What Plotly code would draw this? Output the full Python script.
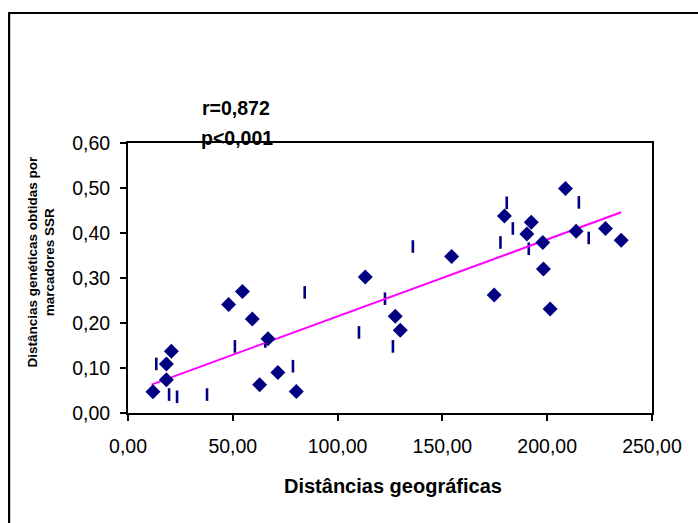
import plotly.graph_objects as go

# ---- data ----
geo_dist = [11.9, 18.3, 18.3, 20.7, 48.0, 54.6, 59.3, 66.8, 62.8, 71.5, 80.3,
            113.2, 127.5, 129.9, 154.4, 174.7, 179.6, 192.4, 190.3, 197.9,
            198.2, 201.4, 208.7, 213.8, 227.8, 235.3]
gen_dist = [0.047, 0.074, 0.109, 0.137, 0.241, 0.270, 0.209, 0.165, 0.063, 0.090, 0.048,
            0.302, 0.215, 0.184, 0.348, 0.262, 0.438, 0.424, 0.398, 0.379,
            0.320, 0.231, 0.499, 0.404, 0.410, 0.384]

dash_x = [13.5, 19.6, 23.4, 37.7, 51.0, 65.5, 78.7, 84.3, 110.2, 122.6, 126.4,
          135.9, 177.7, 180.7, 183.6, 191.2, 215.1, 219.8]
dash_y = [0.109, 0.041, 0.036, 0.041, 0.148, 0.159, 0.104, 0.268, 0.179, 0.254, 0.148,
          0.370, 0.379, 0.467, 0.410, 0.365, 0.468, 0.389]

trend_x = [11.2, 235.3]
trend_y = [0.063, 0.446]

x_tickvals = [0, 50, 100, 150, 200, 250]
x_ticktext = ["0,00", "50,00", "100,00", "150,00", "200,00", "250,00"]
y_tickvals = [0.0, 0.1, 0.2, 0.3, 0.4, 0.5, 0.6]
y_ticktext = ["0,00", "0,10", "0,20", "0,30", "0,40", "0,50", "0,60"]

W, H = 698, 523
ML, MR, MT, MB = 128, 45.5, 143, 110
PW, PH = W - ML - MR, H - MT - MB


def px(x):
    return (x - ML) / PW


def py(y):
    return (H - MB - y) / PH


FONT = "Liberation Sans, Arial, sans-serif"
NAVY = "#000080"

fig = go.Figure()
fig.add_trace(go.Scatter(x=dash_x, y=dash_y, mode="markers",
                         marker=dict(symbol="line-ns", size=9,
                                     line=dict(color=NAVY, width=2.6)),
                         hoverinfo="skip", showlegend=False))
fig.add_trace(go.Scatter(x=trend_x, y=trend_y, mode="lines",
                         line=dict(color="#FF00FF", width=2),
                         showlegend=False))
fig.add_trace(go.Scatter(x=geo_dist, y=gen_dist, mode="markers",
                         marker=dict(symbol="diamond", size=11.5, color=NAVY,
                                     line=dict(width=0)),
                         showlegend=False))

fig.update_xaxes(range=[0, 250], tickvals=x_tickvals, ticktext=x_ticktext,
                 showline=True, linecolor="black", linewidth=2, mirror=True,
                 ticks="outside", ticklen=6, tickwidth=2, tickcolor="black",
                 showgrid=False, zeroline=False, ticklabelstandoff=9,
                 tickfont=dict(family=FONT, size=19.5, color="black"))
fig.update_yaxes(range=[0, 0.6], tickvals=y_tickvals, ticktext=y_ticktext,
                 showline=True, linecolor="black", linewidth=2, mirror=True,
                 ticks="outside", ticklen=6, tickwidth=2, tickcolor="black",
                 showgrid=False, zeroline=False, ticklabelstandoff=6,
                 tickfont=dict(family=FONT, size=19.5, color="black"))

ann = [
    dict(text="<b>r=0,872</b>", x=px(200), y=py(108), xanchor="left", size=19.5),
    dict(text="<b>p<0,001</b>", x=px(199), y=py(137.5), xanchor="left", size=19.5),
    dict(text="<b>Distâncias geográficas</b>", x=px(393), y=py(486), xanchor="center", size=20),
]
for a in ann:
    fig.add_annotation(text=a["text"], x=a["x"], y=a["y"], xref="paper", yref="paper",
                       xanchor=a["xanchor"], yanchor="middle", showarrow=False,
                       font=dict(family=FONT, size=a["size"], color="black"))

fig.add_annotation(text="<b>Distâncias genéticas obtidas por<br>marcadores SSR</b>",
                   x=px(41), y=py(261.5), xref="paper", yref="paper",
                   xanchor="center", yanchor="middle", textangle=-90, showarrow=False,
                   font=dict(family=FONT, size=13.5, color="black"))

# outer chart-area frame (right and bottom edges lie outside the picture)
fig.add_shape(type="rect", xref="paper", yref="paper",
              x0=px(9), x1=px(760), y0=py(580), y1=py(13),
              line=dict(color="black", width=2.2), fillcolor="rgba(0,0,0,0)", layer="below")

fig.update_layout(width=W, height=H, margin=dict(l=ML, r=MR, t=MT, b=MB),
                  paper_bgcolor="white", plot_bgcolor="white",
                  font=dict(family=FONT))

fig.write_html("out.html")
